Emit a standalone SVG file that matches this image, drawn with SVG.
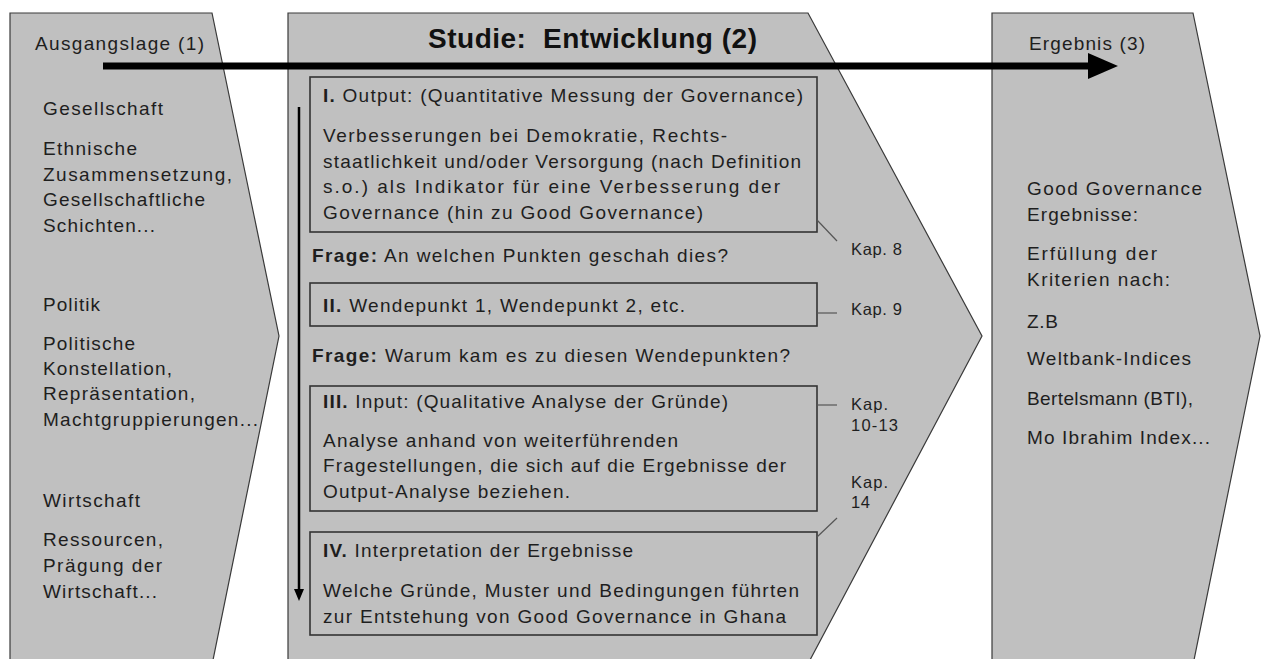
<svg xmlns="http://www.w3.org/2000/svg" width="1266" height="659" viewBox="0 0 1266 659">
<style>
.shape{fill:#c0c0c0;stroke:#3a3a3a;stroke-width:1.2}
.box{fill:none;stroke:#333;stroke-width:1.6}
.t{font-family:"Liberation Sans",Arial,sans-serif;font-size:19px;fill:#1e1e1e}
.k{font-family:"Liberation Sans",Arial,sans-serif;font-size:16.5px;fill:#1e1e1e}
.title{font-family:"Liberation Sans",Arial,sans-serif;font-size:28px;font-weight:bold;fill:#111}
.b{font-weight:bold}
.lead{stroke:#555;stroke-width:1.2;fill:none}
</style>
<defs>
<marker id="bigHead" markerWidth="30" markerHeight="26" refX="0" refY="13" orient="auto" markerUnits="userSpaceOnUse">
<path d="M0,0 L30,13 L0,26 Z" fill="#000"/>
</marker>
<marker id="smallHead" markerWidth="12" markerHeight="10" refX="0" refY="5" orient="auto" markerUnits="userSpaceOnUse">
<path d="M0,0 L12,5 L0,10 Z" fill="#000"/>
</marker>
</defs>

<g id="ausgangslage">
<path class="shape" d="M10,13 L212,13 L279,336 L213,660 L10,660 Z"/>
<text class="t" x="35" y="50" textLength="169" lengthAdjust="spacing">Ausgangslage (1)</text>
<text class="t" x="43" y="115" textLength="120" lengthAdjust="spacing">Gesellschaft</text>
<text class="t" x="43" y="155" textLength="94" lengthAdjust="spacing">Ethnische</text>
<text class="t" x="43" y="181" textLength="189" lengthAdjust="spacing">Zusammensetzung,</text>
<text class="t" x="43" y="206" textLength="162" lengthAdjust="spacing">Gesellschaftliche</text>
<text class="t" x="43" y="232" textLength="112" lengthAdjust="spacing">Schichten...</text>
<text class="t" x="43" y="311" textLength="57" lengthAdjust="spacing">Politik</text>
<text class="t" x="43" y="350" textLength="92" lengthAdjust="spacing">Politische</text>
<text class="t" x="43" y="375" textLength="129" lengthAdjust="spacing">Konstellation,</text>
<text class="t" x="43" y="400" textLength="152" lengthAdjust="spacing">Repräsentation,</text>
<text class="t" x="43" y="426" textLength="215" lengthAdjust="spacing">Machtgruppierungen...</text>
<text class="t" x="43" y="507" textLength="97" lengthAdjust="spacing">Wirtschaft</text>
<text class="t" x="43" y="546" textLength="120" lengthAdjust="spacing">Ressourcen,</text>
<text class="t" x="43" y="572" textLength="119" lengthAdjust="spacing">Prägung der</text>
<text class="t" x="43" y="598" textLength="114" lengthAdjust="spacing">Wirtschaft...</text>
</g>

<g id="studie">
<path class="shape" d="M288,13 L808,13 L982,336 L810,660 L288,660 Z"/>
<text class="title" x="428" y="48" textLength="329" lengthAdjust="spacing">Studie:&#160; Entwicklung (2)</text>
</g>

<g id="box1">
<rect class="box" x="310" y="77" width="507" height="155"/>
<text class="t" x="323" y="102" textLength="480" lengthAdjust="spacing"><tspan class="b">I.</tspan> Output: (Quantitative Messung der Governance)</text>
<text class="t" x="323" y="142" textLength="404" lengthAdjust="spacing">Verbesserungen bei Demokratie, Rechts-</text>
<text class="t" x="323" y="168" textLength="478" lengthAdjust="spacing">staatlichkeit und/oder Versorgung (nach Definition</text>
<text class="t" x="323" y="193" textLength="457" lengthAdjust="spacing">s.o.) als Indikator für eine Verbesserung der</text>
<text class="t" x="323" y="219" textLength="380" lengthAdjust="spacing">Governance (hin zu Good Governance)</text>
</g>

<g id="frage1">
<text class="t" x="312" y="262" textLength="416" lengthAdjust="spacing"><tspan class="b">Frage:</tspan> An welchen Punkten geschah dies?</text>
</g>

<g id="box2">
<rect class="box" x="310" y="283" width="507" height="43"/>
<text class="t" x="323" y="312" textLength="362" lengthAdjust="spacing"><tspan class="b">II.</tspan> Wendepunkt 1, Wendepunkt 2, etc.</text>
</g>

<g id="frage2">
<text class="t" x="312" y="362" textLength="478" lengthAdjust="spacing"><tspan class="b">Frage:</tspan> Warum kam es zu diesen Wendepunkten?</text>
</g>

<g id="box3">
<rect class="box" x="310" y="386" width="507" height="125"/>
<text class="t" x="323" y="408" textLength="405" lengthAdjust="spacing"><tspan class="b">III.</tspan> Input: (Qualitative Analyse der Gründe)</text>
<text class="t" x="323" y="447" textLength="355" lengthAdjust="spacing">Analyse anhand von weiterführenden</text>
<text class="t" x="323" y="472" textLength="463" lengthAdjust="spacing">Fragestellungen, die sich auf die Ergebnisse der</text>
<text class="t" x="323" y="498" textLength="247" lengthAdjust="spacing">Output-Analyse beziehen.</text>
</g>

<g id="box4">
<rect class="box" x="310" y="532" width="507" height="103"/>
<text class="t" x="323" y="557" textLength="310" lengthAdjust="spacing"><tspan class="b">IV.</tspan> Interpretation der Ergebnisse</text>
<text class="t" x="323" y="597" textLength="476" lengthAdjust="spacing">Welche Gründe, Muster und Bedingungen führten</text>
<text class="t" x="323" y="623" textLength="463" lengthAdjust="spacing">zur Entstehung von Good Governance in Ghana</text>
</g>

<g id="kap8"><text class="k" x="851" y="255" textLength="51" lengthAdjust="spacing">Kap. 8</text></g>
<g id="kap9"><text class="k" x="851" y="315" textLength="51" lengthAdjust="spacing">Kap. 9</text></g>
<g id="kap10"><text class="k" x="851" y="410" textLength="37" lengthAdjust="spacing">Kap.</text><text class="k" x="851" y="431" textLength="47" lengthAdjust="spacing">10-13</text></g>
<g id="kap14"><text class="k" x="851" y="488" textLength="37" lengthAdjust="spacing">Kap.</text><text class="k" x="851" y="508" textLength="19" lengthAdjust="spacing">14</text></g>

<g id="ergebnis">
<path class="shape" d="M992,13 L1193,13 L1260,336 L1194,660 L992,660 Z"/>
<text class="t" x="1029" y="50" textLength="116" lengthAdjust="spacing">Ergebnis (3)</text>
<text class="t" x="1027" y="195" textLength="175" lengthAdjust="spacing">Good Governance</text>
<text class="t" x="1027" y="221" textLength="111" lengthAdjust="spacing">Ergebnisse:</text>
<text class="t" x="1027" y="260" textLength="130" lengthAdjust="spacing">Erfüllung der</text>
<text class="t" x="1027" y="286" textLength="143" lengthAdjust="spacing">Kriterien nach:</text>
<text class="t" x="1027" y="328" textLength="31" lengthAdjust="spacing">Z.B</text>
<text class="t" x="1027" y="365" textLength="164" lengthAdjust="spacing">Weltbank-Indices</text>
<text class="t" x="1027" y="405" textLength="166" lengthAdjust="spacing">Bertelsmann (BTI),</text>
<text class="t" x="1027" y="444" textLength="183" lengthAdjust="spacing">Mo Ibrahim Index...</text>
</g>

<g id="connectors">
<line x1="103" y1="66" x2="1088" y2="66" stroke="#000" stroke-width="7" marker-end="url(#bigHead)"/>
<line x1="299" y1="107" x2="299" y2="589" stroke="#000" stroke-width="2.5" marker-end="url(#smallHead)"/>
<line class="lead" x1="817" y1="220" x2="837" y2="241"/>
<line class="lead" x1="817" y1="313" x2="837" y2="313"/>
<line class="lead" x1="817" y1="405" x2="837" y2="405"/>
<line class="lead" x1="817" y1="537" x2="837" y2="518"/>
</g>
</svg>
